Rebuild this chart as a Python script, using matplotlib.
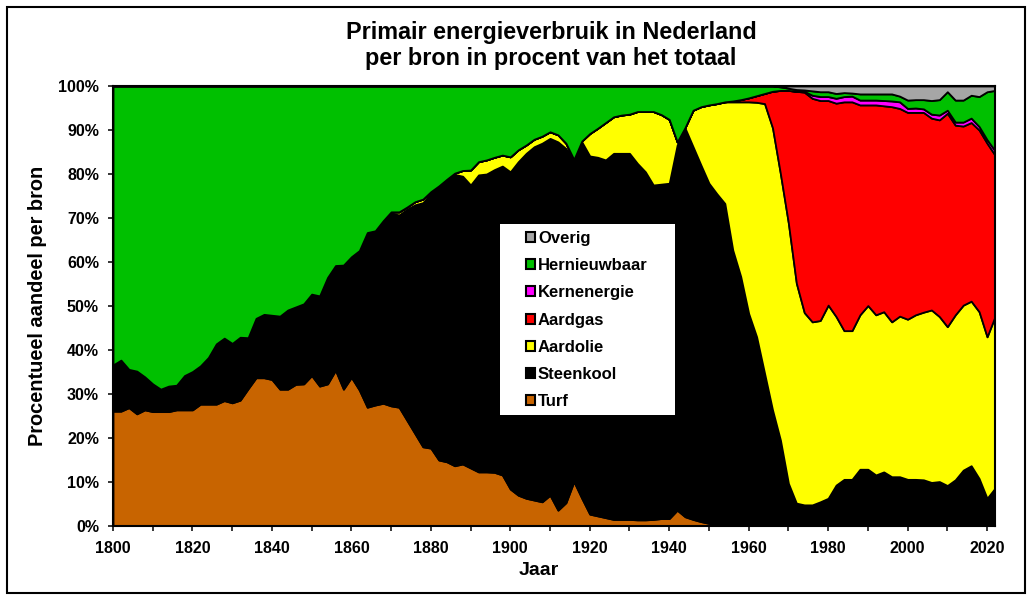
import matplotlib
matplotlib.use("Agg")
import matplotlib.pyplot as plt
import matplotlib.patches as patches
from matplotlib.ticker import MultipleLocator, FuncFormatter

plt.rcParams["font.family"] = ["Liberation Sans", "DejaVu Sans"]
plt.rcParams["font.weight"] = "bold"

# ----------------------------------------------------------------------
# Data: share of each source in percent, every two years 1800-2022
# ----------------------------------------------------------------------
jaren = list(range(1800, 2023, 2))

turf = [
    26.1, 26.1, 26.9, 25.5, 26.4, 26.0, 26.0, 26.0, 26.4, 26.4,   # 1800-1818
    26.4, 27.7, 27.7, 27.7, 28.5, 28.0, 28.6, 31.2, 33.7, 33.7,   # 1820-1838
    33.3, 31.1, 31.1, 32.2, 32.3, 34.2, 31.8, 32.3, 35.4, 31.1,   # 1840-1858
    33.8, 30.9, 27.0, 27.5, 27.9, 27.3, 27.0, 24.0, 21.0, 18.0,   # 1860-1878
    17.7, 15.0, 14.6, 13.7, 14.1, 13.2, 12.3, 12.3, 12.2, 11.6,   # 1880-1898
    8.4, 7.0, 6.3, 5.9, 5.5, 7.0, 3.6, 5.3, 10.1, 6.3,            # 1900-1918
    2.7, 2.3, 1.9, 1.5, 1.5, 1.5, 1.4, 1.4, 1.5, 1.7,             # 1920-1938
    1.7, 3.6, 2.1, 1.5, 1.0, 0.6, 0.4, 0.3, 0.3, 0.3,             # 1940-1958
    0.2, 0.0, 0.0, 0.0, 0.0, 0.0, 0.0, 0.0, 0.0, 0.0,             # 1960-1978
    0.0, 0.0, 0.0, 0.0, 0.0, 0.0, 0.0, 0.0, 0.0, 0.0,             # 1980-1998
    0.0, 0.0, 0.0, 0.0, 0.0, 0.0, 0.0, 0.0, 0.0, 0.0,             # 2000-2018
    0.0, 0.0,                                                     # 2020-2022
]

steenkool = [
    10.5, 11.6, 8.7, 9.7, 7.5, 6.3, 5.1, 5.8, 5.6, 7.8,
    8.7, 8.7, 10.6, 13.7, 14.2, 13.5, 14.3, 11.6, 13.5, 14.4,
    14.6, 16.6, 18.0, 17.6, 18.2, 18.5, 20.5, 24.2, 23.8, 28.2,
    27.4, 31.7, 39.7, 39.6, 41.5, 43.8, 43.7, 48.0, 52.0, 55.5,
    57.9, 62.0, 64.0, 66.2, 65.4, 64.3, 67.5, 67.7, 68.8, 70.2,
    72.1, 75.8, 78.4, 80.3, 81.5, 81.1, 83.7, 80.5, 73.2, 81.0,
    81.4, 81.5, 81.3, 83.2, 83.2, 83.2, 81.0, 79.1, 76.0, 76.0,
    76.2, 83.0, 88.3, 84.7, 81.0, 77.3, 75.1, 73.0, 62.4, 56.4,
    48.1, 43.0, 34.7, 26.4, 19.5, 9.7, 5.2, 4.8, 4.8, 5.5,
    6.3, 9.3, 10.6, 10.6, 12.9, 12.9, 11.6, 12.3, 11.2, 11.2,
    10.6, 10.6, 10.5, 9.9, 10.1, 9.2, 10.5, 12.7, 13.7, 10.8,
    6.3, 8.6,
]

aardolie = [
    0.0, 0.0, 0.0, 0.0, 0.0, 0.0, 0.0, 0.0, 0.0, 0.0,
    0.0, 0.0, 0.0, 0.0, 0.0, 0.0, 0.0, 0.0, 0.0, 0.0,
    0.0, 0.0, 0.0, 0.0, 0.0, 0.0, 0.0, 0.0, 0.0, 0.0,
    0.0, 0.0, 0.0, 0.0, 0.0, 0.3, 0.7, 0.5, 0.7, 0.8,
    0.4, 0.3, 0.2, 0.3, 1.3, 3.4, 3.0, 3.2, 2.8, 2.5,
    3.4, 2.7, 1.9, 1.7, 1.6, 1.5, 1.6, 1.2, 0.0, 0.2,
    5.1, 6.6, 8.5, 8.3, 8.7, 8.9, 11.8, 13.7, 16.7, 15.8,
    14.5, 0.7, 0.2, 8.3, 13.3, 17.8, 20.5, 23.1, 33.7, 39.7,
    48.1, 53.3, 61.3, 64.1, 60.5, 59.1, 50.0, 43.7, 41.6, 41.2,
    43.9, 38.3, 33.8, 33.8, 35.1, 37.2, 36.4, 36.4, 35.2, 36.5,
    36.4, 37.4, 38.1, 39.2, 37.5, 36.1, 37.5, 37.5, 37.4, 37.9,
    36.7, 39.0,
]

aardgas = [0.0] * 78 + [
    0.2, 0.5,                                                     # 1956-1958
    0.9, 1.5, 2.3, 8.3, 19.0, 30.2, 43.6, 50.1, 50.8, 50.0,
    46.5, 48.5, 52.0, 52.0, 47.7, 45.6, 47.7, 46.8, 48.9, 47.2,
    47.0, 46.0, 45.4, 43.6, 44.7, 48.5, 43.1, 40.7, 40.6, 41.3,
    44.0, 36.7,
]

kernenergie = [0.0] * 87 + [
    0.2, 0.7, 0.9,                                                # 1974-1978
    0.9, 1.1, 1.2, 1.3, 1.1, 1.1, 1.1, 1.2, 1.3, 1.5,
    0.9, 1.0, 0.8, 0.9, 1.1, 0.7, 0.7, 0.9, 1.0, 0.8,
    0.8, 1.0,
]

hernieuwbaar = [
    63.4, 62.3, 64.4, 64.8, 66.1, 67.7, 68.9, 68.2, 68.0, 65.8,
    64.9, 63.6, 61.7, 58.6, 57.3, 58.5, 57.1, 57.2, 52.8, 51.9,
    52.1, 52.3, 50.9, 50.2, 49.5, 47.3, 47.7, 43.5, 40.8, 40.7,
    38.8, 37.4, 33.3, 32.9, 30.6, 28.6, 28.6, 27.5, 26.3, 25.7,
    24.0, 22.7, 21.2, 19.8, 19.2, 19.1, 17.2, 16.8, 16.2, 15.7,
    16.1, 14.5, 13.4, 12.1, 11.4, 10.4, 11.1, 13.0, 16.7, 12.5,
    10.8, 9.6, 8.3, 7.0, 6.6, 6.4, 5.8, 5.8, 5.8, 6.5,
    7.6, 12.7, 9.4, 5.5, 4.7, 4.3, 4.0, 3.6, 3.4, 3.1,
    2.7, 2.2, 1.7, 1.2, 0.8, 0.5, 0.4, 0.3, 1.0, 1.1,
    1.1, 1.1, 0.9, 0.7, 1.4, 1.4, 1.4, 1.5, 1.6, 1.3,
    1.9, 1.9, 2.1, 3.1, 3.5, 4.2, 5.0, 5.0, 5.2, 6.8,
    10.9, 13.7,
]

overig = [0.0] * 84 + [
    0.2, 0.5, 0.8, 0.9, 1.1, 1.3,                                 # 1968-1978
    1.3, 1.7, 1.5, 1.6, 1.8, 1.8, 1.8, 1.8, 1.8, 2.3,
    3.2, 3.1, 3.1, 3.3, 3.1, 1.3, 3.2, 3.2, 2.1, 2.4,
    1.3, 1.0,
]

labels = ["Turf", "Steenkool", "Aardolie", "Aardgas",
          "Kernenergie", "Hernieuwbaar", "Overig"]
kleuren = ["#C86400", "#000000", "#FFFF00", "#FF0000",
           "#FF00FF", "#00C000", "#A6A6A6"]

# ----------------------------------------------------------------------
# Figure
# ----------------------------------------------------------------------
fig = plt.figure(figsize=(10.3, 6.0), dpi=100)
ax = fig.add_axes([113 / 1030, 74 / 600, 882 / 1030, 440 / 600])

ax.stackplot(
    jaren,
    [turf, steenkool, aardolie, aardgas, kernenergie, hernieuwbaar, overig],
    colors=kleuren,
    edgecolor="black",
    linewidth=1.3,
)

ax.set_xlim(1800, 2022)
ax.set_ylim(0, 100)

ax.xaxis.set_major_locator(MultipleLocator(20))
ax.xaxis.set_minor_locator(MultipleLocator(10))
ax.yaxis.set_major_locator(MultipleLocator(10))
ax.yaxis.set_major_formatter(FuncFormatter(lambda v, p: f"{v:.0f}%"))
ax.tick_params(which="both", direction="out", length=3.6, width=1.1,
               labelsize=11.5)
ax.tick_params(axis="y", pad=6.5)
ax.tick_params(axis="x", pad=7.2)
for lab in ax.get_xticklabels() + ax.get_yticklabels():
    lab.set_fontweight("bold")
for s in ax.spines.values():
    s.set_linewidth(1.5)

ax.set_ylabel("Procentueel aandeel per bron", fontsize=14.4, fontweight="bold")
ax.yaxis.set_label_coords((47 - 113) / 882, 0.5)
ax.set_xlabel("Jaar", fontsize=14, fontweight="bold")
ax.xaxis.set_label_coords((538.5 - 113) / 882, (526 - 562) / 440)

# Title, two lines
fig.text(551 / 1030, 1 - 39.3 / 600, "Primair energieverbruik in Nederland",
         ha="center", va="baseline", fontsize=16.8, fontweight="bold")
fig.text(551 / 1030, 1 - 65 / 600, "per bron in procent van het totaal",
         ha="center", va="baseline", fontsize=16.8, fontweight="bold")

# Legend: white box with the entries in reverse stacking order
fig.patches.append(patches.Rectangle(
    (500 / 1030, 1 - 415 / 600), 175 / 1030, 191 / 600,
    transform=fig.transFigure, facecolor="white", edgecolor="none", zorder=2))

handles = [patches.Patch(facecolor=c, edgecolor="black", linewidth=1.5, label=l)
           for c, l in zip(kleuren, labels)][::-1]
fig.legend(
    handles=handles,
    loc="upper left",
    bbox_to_anchor=(526 / 1030, 1 - 231 / 600),
    frameon=False,
    prop={"weight": "bold", "size": 12},
    handlelength=0.54,
    handleheight=0.54,
    handletextpad=0.18,
    labelspacing=0.73,
    borderpad=0,
    borderaxespad=0,
)

# Outer frame around the chart
fig.patches.append(patches.Rectangle(
    (7 / 1030, 1 - 593 / 600), 1018 / 1030, 586 / 600,
    transform=fig.transFigure, fill=False, edgecolor="black", linewidth=1.5))

fig.savefig("out.png", dpi=100)
